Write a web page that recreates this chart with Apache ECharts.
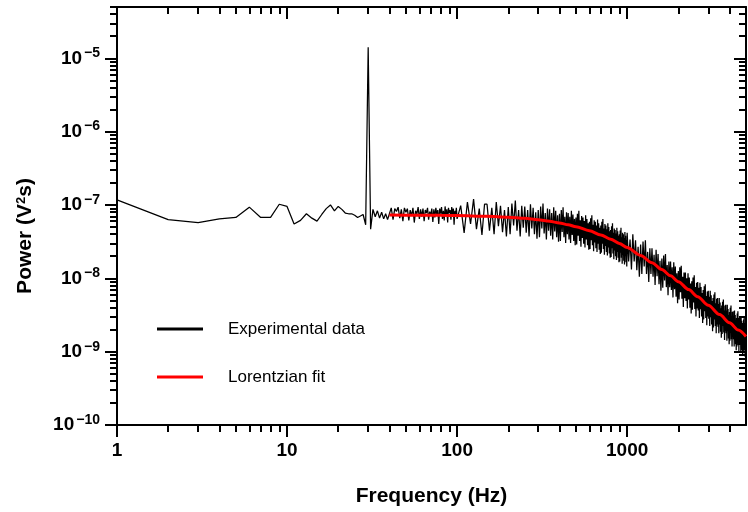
<!DOCTYPE html>
<html><head><meta charset="utf-8">
<script src="https://cdn.jsdelivr.net/npm/echarts@6/dist/echarts.min.js"></script>
<style>html,body{margin:0;padding:0;background:#fff}#c{width:748px;height:512px}</style>
</head><body><div id="c"></div><script>
// ---- Data (power values stored as log10 of V^2 s) ----
// 1..100 Hz, step 1 Hz
const lowStart = 1, lowStep = 1;
const lowLog = [
-6.93,-7.20,-7.24,-7.19,-7.17,-7.03,-7.17,-7.17,-6.99,-7.02,
-7.26,-7.21,-7.12,-7.18,-7.22,-7.13,-7.05,-7.00,-7.08,-7.02,
-7.06,-7.11,-7.12,-7.12,-7.14,-7.17,-7.15,-7.13,-7.27,-4.85,
-7.33,-7.06,-7.16,-7.08,-7.18,-7.10,-7.19,-7.12,-7.20,-7.12,
-7.04,-7.20,-7.05,-7.09,-7.03,-7.18,-7.06,-7.22,-7.04,-7.10,
-7.05,-7.21,-7.07,-7.15,-7.04,-7.24,-7.08,-7.12,-7.03,-7.19,
-7.06,-7.16,-7.05,-7.22,-7.07,-7.11,-7.04,-7.20,-7.09,-7.14,
-7.05,-7.23,-7.06,-7.17,-7.04,-7.13,-7.07,-7.26,-7.05,-7.12,
-7.03,-7.19,-7.08,-7.21,-7.02,-7.15,-7.06,-7.24,-7.04,-7.11,
-7.07,-7.20,-7.03,-7.16,-7.05,-7.27,-7.08,-7.13,-7.04,-7.19
];
// 105..995 Hz, step 5 Hz
const midStart = 105, midStep = 5;
const midLog = [
-7.01,-7.38,-6.96,-7.26,-6.92,-7.33,-7.05,-7.41,-6.99,
-6.99,-7.35,-7.04,-7.40,-6.96,-7.29,-7.01,-7.37,-7.07,-7.43,
-7.03,-7.40,-6.98,-7.28,-6.94,-7.35,-7.07,-7.43,-7.01,-7.31,
-7.02,-7.38,-7.07,-7.43,-6.99,-7.32,-7.04,-7.40,-7.10,-7.46,
-7.07,-7.44,-7.02,-7.32,-6.98,-7.39,-7.11,-7.47,-7.05,-7.35,
-7.06,-7.42,-7.11,-7.47,-7.03,-7.36,-7.08,-7.44,-7.14,-7.50,
-7.12,-7.49,-7.07,-7.37,-7.03,-7.44,-7.16,-7.52,-7.10,-7.40,
-7.11,-7.47,-7.16,-7.52,-7.08,-7.41,-7.13,-7.49,-7.19,-7.55,
-7.17,-7.54,-7.12,-7.42,-7.08,-7.49,-7.21,-7.57,-7.15,-7.45,
-7.17,-7.53,-7.22,-7.58,-7.14,-7.47,-7.19,-7.55,-7.25,-7.61,
-7.23,-7.60,-7.18,-7.48,-7.14,-7.55,-7.27,-7.63,-7.21,-7.51,
-7.23,-7.59,-7.28,-7.64,-7.20,-7.53,-7.25,-7.61,-7.31,-7.67,
-7.28,-7.65,-7.23,-7.53,-7.19,-7.60,-7.32,-7.68,-7.26,-7.56,
-7.28,-7.64,-7.33,-7.69,-7.25,-7.58,-7.30,-7.66,-7.36,-7.72,
-7.34,-7.71,-7.29,-7.59,-7.25,-7.66,-7.38,-7.74,-7.32,-7.62,
-7.34,-7.70,-7.39,-7.75,-7.31,-7.64,-7.36,-7.72,-7.42,-7.78,
-7.40,-7.77,-7.35,-7.65,-7.31,-7.72,-7.44,-7.80,-7.38,-7.68,
-7.40,-7.76,-7.45,-7.81,-7.37,-7.70,-7.42,-7.78,-7.48,-7.84
];
// 1000..5000 Hz, step 20 Hz
const highStart = 1000, highStep = 20;
const highLog = [
-7.38,-7.77,-7.47,-7.88,-7.40,-7.77,-7.48,-7.89,-7.57,-7.98,
-7.54,-7.94,-7.50,-7.84,-7.48,-7.94,-7.64,-8.05,-7.59,-7.94,
-7.59,-7.98,-7.68,-8.09,-7.61,-7.97,-7.67,-8.08,-7.76,-8.17,
-7.73,-8.13,-7.69,-8.03,-7.67,-8.12,-7.82,-8.23,-7.77,-8.12,
-7.77,-8.16,-7.85,-8.26,-7.78,-8.15,-7.84,-8.25,-7.93,-8.34,
-7.90,-8.29,-7.85,-8.19,-7.83,-8.28,-7.98,-8.39,-7.92,-8.27,
-7.92,-8.31,-8.00,-8.41,-7.93,-8.29,-7.99,-8.40,-8.07,-8.48,
-8.04,-8.43,-7.99,-8.33,-7.96,-8.42,-8.12,-8.52,-8.06,-8.41,
-8.05,-8.44,-8.13,-8.54,-8.06,-8.42,-8.12,-8.52,-8.20,-8.61,
-8.16,-8.56,-8.11,-8.45,-8.08,-8.54,-8.24,-8.64,-8.18,-8.52,
-8.17,-8.55,-8.25,-8.65,-8.17,-8.53,-8.23,-8.63,-8.31,-8.72,
-8.27,-8.67,-8.22,-8.56,-8.19,-8.65,-8.34,-8.75,-8.28,-8.63,
-8.27,-8.66,-8.35,-8.75,-8.27,-8.63,-8.33,-8.73,-8.41,-8.81,
-8.37,-8.76,-8.32,-8.65,-8.29,-8.74,-8.44,-8.84,-8.37,-8.72,
-8.36,-8.75,-8.44,-8.85,-8.36,-8.72,-8.42,-8.82,-8.50,-8.90,
-8.46,-8.85,-8.40,-8.74,-8.37,-8.83,-8.52,-8.93,-8.46,-8.80,
-8.45,-8.83,-8.53,-8.93,-8.44,-8.81,-8.50,-8.90,-8.58,-8.98,
-8.54,-8.93,-8.48,-8.82,-8.45,-8.91,-8.60,-9.00,-8.54,-8.88,
-8.52,-8.91,-8.60,-9.01,-8.52,-8.88,-8.58,-8.98,-8.65,-9.06,
-8.61,-9.00,-8.56,-8.89,-8.52,-8.98,-8.67,-9.07,-8.61,-8.95,
-8.66
];
// Lorentzian fit
const fitFreq = [40,60,80,100,150,200,250,300,350,400,450,500,600,700,800,900,1000,1200,1400,1600,1800,2000,2300,2600,3000,3500,4000,4500,5000];
const fitVal  = [7.28e-8,7.25e-8,7.22e-8,7.17e-8,7.02e-8,6.82e-8,6.57e-8,6.29e-8,5.99e-8,5.68e-8,5.37e-8,5.05e-8,4.45e-8,3.90e-8,3.41e-8,2.99e-8,2.63e-8,2.05e-8,1.63e-8,1.315e-8,1.08e-8,9.00e-9,7.02e-9,5.61e-9,4.29e-9,3.20e-9,2.48e-9,1.97e-9,1.61e-9];

// Axis ticks
const xMajor = [1,10,100,1000];
const xMinor = [2,3,4,5,6,7,8,9,20,30,40,50,60,70,80,90,200,300,400,500,600,700,800,900,2000,3000,4000];
const yMajor = [1e-10,1e-9,1e-8,1e-7,1e-6,1e-5];
const yMinor = [2e-10,3e-10,4e-10,5e-10,6e-10,7e-10,8e-10,9e-10,
  2e-9,3e-9,4e-9,5e-9,6e-9,7e-9,8e-9,9e-9,
  2e-8,3e-8,4e-8,5e-8,6e-8,7e-8,8e-8,9e-8,
  2e-7,3e-7,4e-7,5e-7,6e-7,7e-7,8e-7,9e-7,
  2e-6,3e-6,4e-6,5e-6,6e-6,7e-6,8e-6,9e-6,
  2e-5,3e-5,4e-5,5e-5];
const xMin = 1, xMax = 5000, yMin = 1e-10, yMax = 5e-5;

// ---- build series data ----
function seg(start, step, logs){ return logs.map((v,i)=>[start+i*step, Math.pow(10, v)]); }
const expData = seg(lowStart, lowStep, lowLog).concat(seg(midStart, midStep, midLog), seg(highStart, highStep, highLog));
const fitData = fitFreq.map((f,i)=>[f, fitVal[i]]);

const font = '"Liberation Sans", Arial, Helvetica, sans-serif';
const axLine = {color:'#000', width:2};
function xAxis(position, ticks, len, inside, labels, line, extra){
  return Object.assign({
    type:'log', logBase:10, min:xMin, max:xMax, position,
    axisLine:{show:line, onZero:false, lineStyle:axLine},
    axisTick:{show:true, inside, length:len, customValues:ticks, lineStyle:{color:'#000', width:2}},
    axisLabel:labels ? {show:true, customValues:ticks, fontSize:19, fontWeight:'bold', color:'#000', fontFamily:font, margin:16,
      formatter:v=>String(Math.round(v))} : {show:false},
    splitLine:{show:false}, minorTick:{show:false}, axisPointer:{show:false}
  }, extra||{});
}
function yAxis(position, ticks, len, inside, labels, line, extra){
  return Object.assign({
    type:'log', logBase:10, min:yMin, max:yMax, position,
    axisLine:{show:line, onZero:false, lineStyle:axLine},
    axisTick:{show:true, inside, length:len, customValues:ticks, lineStyle:{color:'#000', width:2}},
    axisLabel:labels ? {show:true, customValues:ticks, margin:17, fontFamily:font, color:'#000',
      formatter:v=>'{b|10}{s|\u2212' + (-Math.round(Math.log10(v))) + '}',
      rich:{b:{fontSize:19, fontWeight:'bold', lineHeight:24, fontFamily:font, color:'#000'},
            s:{fontSize:14, fontWeight:'bold', lineHeight:14, verticalAlign:'top', fontFamily:font, color:'#000', padding:[0,0,0,2]}}} : {show:false},
    splitLine:{show:false}, minorTick:{show:false}, axisPointer:{show:false}
  }, extra||{});
}

const chart = echarts.init(document.getElementById('c'), null, {renderer:'canvas'});
chart.setOption({
  animation:false,
  backgroundColor:'#fff',
  grid:{left:117, right:2, top:7, bottom:85, containLabel:false},
  legend:{
    show:true, orient:'vertical', left:152, top:314, itemWidth:46, itemHeight:3, itemGap:28,
    icon:'rect', selectedMode:false,
    textStyle:{fontSize:17, color:'#000', fontFamily:font, padding:[0,0,0,20], lineHeight:20},
    data:['Experimental data','Lorentzian fit']
  },
  xAxis:[
    xAxis('bottom', xMajor, 12, false, true, true, {name:'Frequency (Hz)', nameLocation:'middle', nameGap:61,
      nameTextStyle:{fontSize:21, fontWeight:'bold', color:'#000', fontFamily:font}}),
    xAxis('bottom', xMinor, 7, false, false, false),
    xAxis('top', xMajor, 12, true, false, true),
    xAxis('top', xMinor, 7, true, false, false)
  ],
  yAxis:[
    yAxis('left', yMajor, 12, false, true, true, {name:'Power (V{sup|2}s)', nameLocation:'middle', nameGap:81,
      nameTextStyle:{fontSize:21, fontWeight:'bold', color:'#000', fontFamily:font, padding:[0,40,0,0],
        rich:{sup:{fontSize:13, fontWeight:'bold', verticalAlign:'top', lineHeight:13, fontFamily:font, color:'#000'}}}}),
    yAxis('left', yMinor, 7, false, false, false),
    yAxis('right', yMajor, 12, true, false, true),
    yAxis('right', yMinor, 7, true, false, false)
  ],
  series:[
    {name:'Experimental data', type:'line', xAxisIndex:0, yAxisIndex:0, data:expData, showSymbol:false, symbol:'none',
      lineStyle:{color:'#000', width:1.25}, itemStyle:{color:'#000'}, z:2, silent:true},
    {name:'Lorentzian fit', type:'line', xAxisIndex:0, yAxisIndex:0, data:fitData, showSymbol:false, symbol:'none',
      smooth:0.3, smoothMonotone:'x', lineStyle:{color:'#ff0000', width:3}, itemStyle:{color:'#ff0000'}, z:3, silent:true}
  ]
});
</script></body></html>
